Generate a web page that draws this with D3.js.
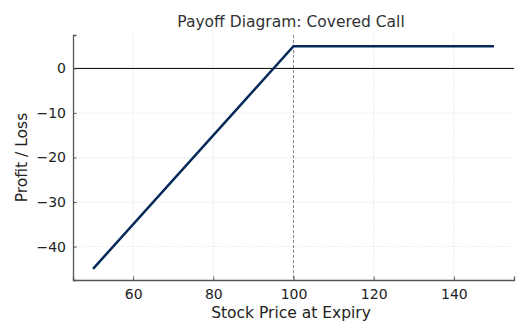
<!DOCTYPE html>
<html><head><meta charset="utf-8">
<script src="https://cdn.jsdelivr.net/npm/d3@7"></script>
<style>body{margin:0;background:#fff;} svg{display:block;font-family:"DejaVu Sans",sans-serif;}</style>
</head><body>
<svg id="c" width="528" height="336"></svg>
<script>
const stockPrice = [50, 100, 150];
const profit = [-45, 5, 5];
const strike = 100;
const xTicks = [60, 80, 100, 120, 140];
const yTicks = [-40, -30, -20, -10, 0];
const title = "Payoff Diagram: Covered Call";
const xLabel = "Stock Price at Expiry";
const yLabel = "Profit / Loss";

const svg = d3.select("#c");
const L = 73, R = 514, T = 35, B = 280;
const x = d3.scaleLinear().domain([45, 155]).range([L, R]);
const y = d3.scaleLinear().domain([-47.5, 7.5]).range([B, T]);

// grid
svg.append("g").selectAll("line").data(xTicks).join("line")
  .attr("x1", d => x(d)).attr("x2", d => x(d)).attr("y1", T).attr("y2", B)
  .attr("stroke", "#e3e3e3").attr("stroke-width", 0.8).attr("stroke-dasharray", "1.5,1.5");
svg.append("g").selectAll("line").data(yTicks).join("line")
  .attr("x1", L).attr("x2", R).attr("y1", d => y(d)).attr("y2", d => y(d))
  .attr("stroke", "#e3e3e3").attr("stroke-width", 0.8).attr("stroke-dasharray", "1.5,1.5");

// zero line
svg.append("line").attr("x1", L).attr("x2", R).attr("y1", y(0)).attr("y2", y(0))
  .attr("stroke", "#000").attr("stroke-width", 1);
// strike line
svg.append("line").attr("x1", x(strike)).attr("x2", x(strike)).attr("y1", T).attr("y2", B)
  .attr("stroke", "#888").attr("stroke-width", 1).attr("stroke-dasharray", "3,2");

// payoff line
const pts = stockPrice.map((s, i) => [s, profit[i]]);
svg.append("path").datum(pts)
  .attr("d", d3.line().x(d => x(d[0])).y(d => y(d[1])))
  .attr("fill", "none").attr("stroke", "#06295a").attr("stroke-width", 2.5);

// axes
const xAxis = svg.append("g").attr("transform", `translate(0,${B})`)
  .call(d3.axisBottom(x).tickValues(xTicks).tickSize(-3.5).tickPadding(9));
const yAxis = svg.append("g").attr("transform", `translate(${L},0)`)
  .call(d3.axisLeft(y).tickValues(yTicks).tickSize(-3.5).tickPadding(7)
    .tickFormat(d => d < 0 ? "\u2212" + Math.abs(d) : d));
[xAxis, yAxis].forEach(a => {
  a.select(".domain").attr("stroke", "#555").attr("stroke-width", 1.3);
  a.selectAll(".tick line").attr("stroke", "#555").attr("stroke-width", 1);
  a.selectAll(".tick text").attr("fill", "#222").attr("font-size", 14).attr("font-family", "DejaVu Sans, sans-serif");
});

svg.append("text").attr("x", 291).attr("y", 27).attr("text-anchor", "middle")
  .attr("font-size", 15.5).attr("fill", "#333").text(title);
svg.append("text").attr("x", 291).attr("y", 318).attr("text-anchor", "middle")
  .attr("font-size", 15.5).attr("fill", "#222").text(xLabel);
svg.append("text").attr("transform", `translate(27,${(T+B)/2}) rotate(-90)`).attr("text-anchor", "middle")
  .attr("font-size", 15.5).attr("fill", "#222").text(yLabel);
</script>
</body></html>
